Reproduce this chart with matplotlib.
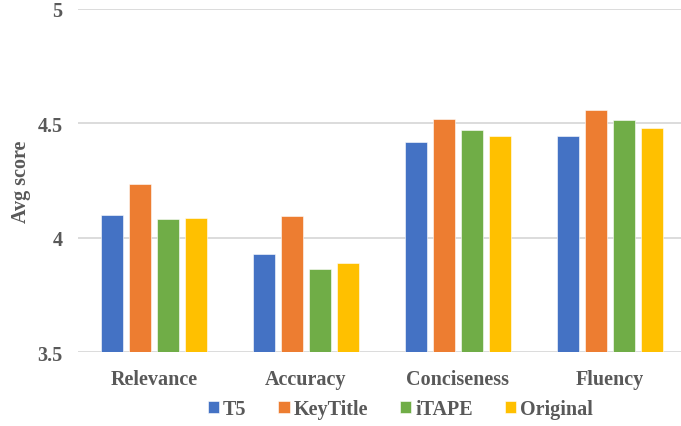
import numpy as np
import matplotlib.pyplot as plt

# average human-eval scores per model
categories = ['Relevance', 'Accuracy', 'Conciseness', 'Fluency']
models = ['T5', 'KeyTitle', 'iTAPE', 'Original']
t5 = [4.102, 3.930, 4.418, 4.444]
keytitle = [4.236, 4.095, 4.520, 4.557]
itape = [4.081, 3.863, 4.471, 4.515]
original = [4.086, 3.892, 4.446, 4.480]
colours = ['#4472C4', '#ED7D31', '#70AD47', '#FFC000']

txt = '#595959'
plt.rcParams['font.family'] = ['Liberation Serif', 'DejaVu Serif']
plt.rcParams['font.weight'] = 'bold'

fig = plt.figure(figsize=(6.81, 4.27), dpi=100)
ax = fig.add_axes([0.1145, 0.1726, 0.8928, 0.804])

x = np.arange(len(categories))
width = 0.145
pitch = 0.184
for i, (vals, name) in enumerate(zip([t5, keytitle, itape, original], models)):
    ax.bar(x + (i - 1.5) * pitch, np.array(vals) - 3.5, width, bottom=3.5,
           color=colours[i], label=name, zorder=3,
           edgecolor='white', linewidth=0.4)

ax.set_xlim(-0.5, 3.5)
ax.set_ylim(3.5, 5)
ax.set_yticks([3.5, 4, 4.5, 5])
ax.set_yticklabels(['3.5', '4', '4.5', '5'])
ax.set_xticks(x)
ax.set_xticklabels(categories)
ax.tick_params(length=0, labelsize=14.5, colors=txt)
ax.tick_params(axis='y', pad=11)
ax.tick_params(axis='x', pad=12)
ax.grid(axis='y', color='#D9D9D9', linewidth=1.3, zorder=0)
for s in ax.spines.values():
    s.set_visible(False)
ax.set_ylabel('Avg score', fontsize=14.5, color=txt, fontweight='bold')
ax.yaxis.set_label_coords(-0.078, 0.5)

fig.legend(loc='center', bbox_to_anchor=(0.588, 0.04), ncol=4, frameon=False,
           prop={'size': 14.5, 'weight': 'bold'}, labelcolor=txt,
           handlelength=0.55, handleheight=0.55,
           handletextpad=0.2, columnspacing=1.6)

fig.savefig('out.png', dpi=100)
